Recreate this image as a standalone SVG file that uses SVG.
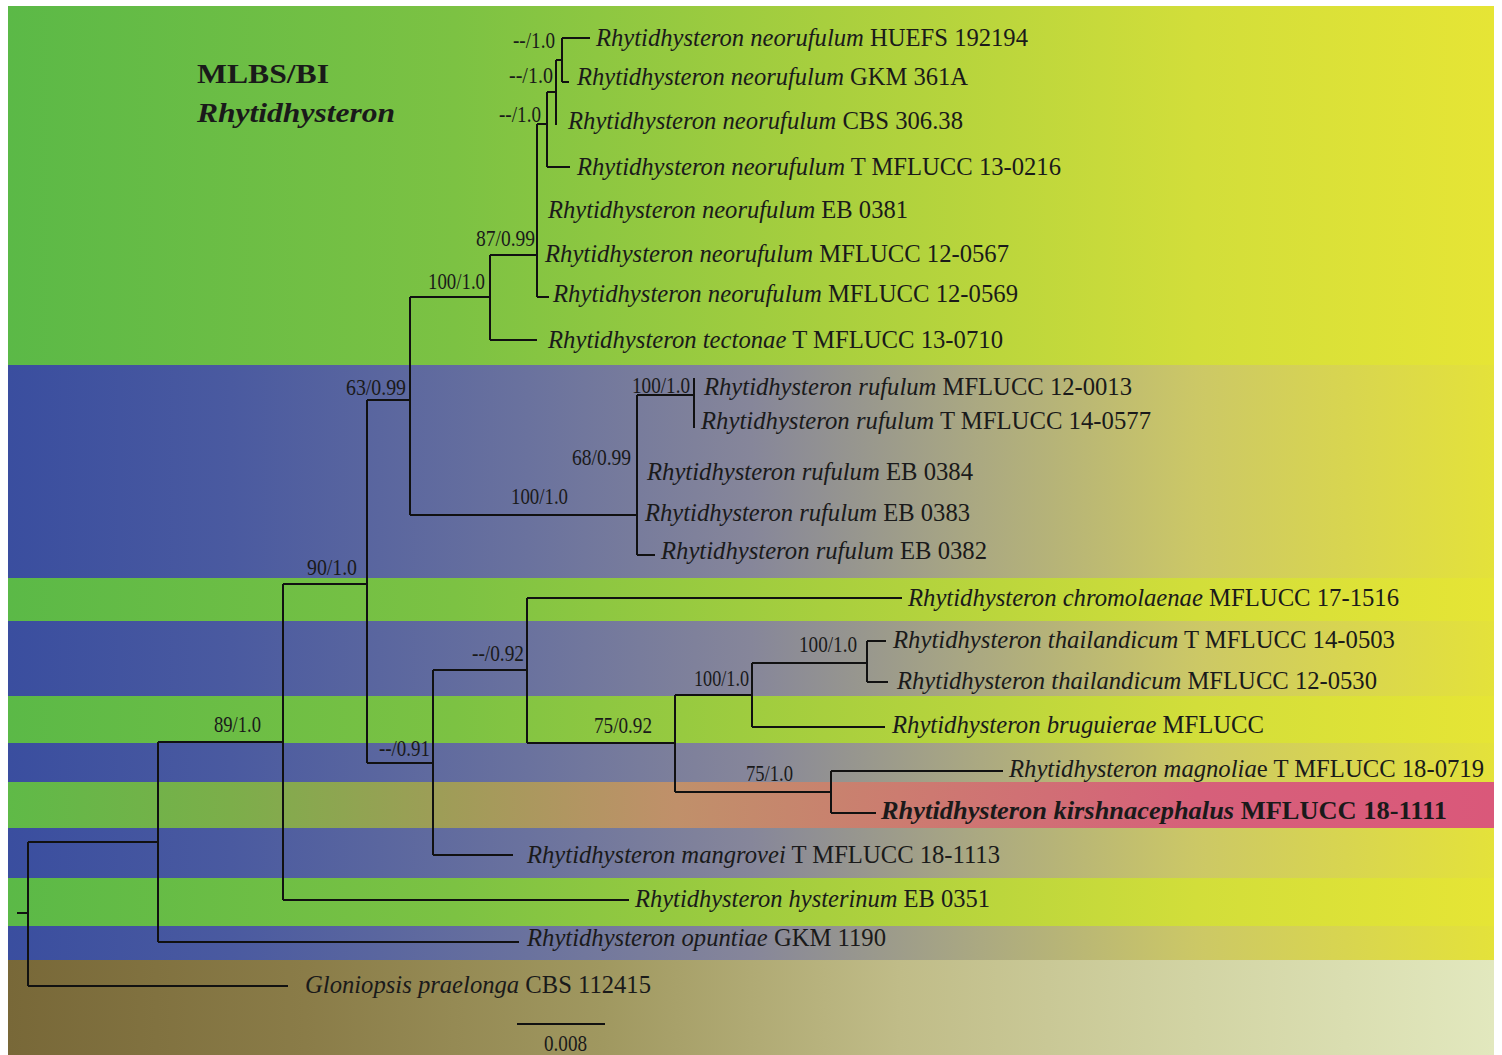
<svg xmlns="http://www.w3.org/2000/svg" width="1502" height="1055" viewBox="0 0 1502 1055">
<defs>
<linearGradient id="gG" x1="0" y1="0" x2="1" y2="0">
<stop offset="0" stop-color="#5bb947"/><stop offset="0.3" stop-color="#7cc243"/><stop offset="0.55" stop-color="#a8cf3e"/><stop offset="0.8" stop-color="#d2de3a"/><stop offset="1" stop-color="#e6e535"/>
</linearGradient>
<linearGradient id="gB" x1="0" y1="0" x2="1" y2="0">
<stop offset="0" stop-color="#3a4e9f"/><stop offset="0.15" stop-color="#4a5aa0"/><stop offset="0.35" stop-color="#6a729e"/><stop offset="0.5" stop-color="#86869a"/><stop offset="0.65" stop-color="#aaa882"/><stop offset="0.8" stop-color="#ccc866"/><stop offset="1" stop-color="#e4e23a"/>
</linearGradient>
<linearGradient id="gP" x1="0" y1="0" x2="1" y2="0">
<stop offset="0" stop-color="#5fba47"/><stop offset="0.15" stop-color="#7cae4a"/><stop offset="0.3" stop-color="#a09c58"/><stop offset="0.45" stop-color="#c0906a"/><stop offset="0.6" stop-color="#cc7c70"/><stop offset="0.8" stop-color="#d6607a"/><stop offset="1" stop-color="#da587a"/>
</linearGradient>
<linearGradient id="gBr" x1="0" y1="0" x2="1" y2="0">
<stop offset="0" stop-color="#786838"/><stop offset="0.2" stop-color="#8a7c48"/><stop offset="0.4" stop-color="#a09860"/><stop offset="0.6" stop-color="#c0bc88"/><stop offset="0.8" stop-color="#d2d4a4"/><stop offset="1" stop-color="#e2e8be"/>
</linearGradient>
</defs>
<style>
.tx{font-family:"Liberation Serif","Times New Roman",serif;font-size:25px;fill:#1a1a1a}
.it{font-style:italic}
.sp{font-family:"Liberation Serif","Times New Roman",serif;font-size:23px;fill:#1a1a1a}
.hd{font-family:"Liberation Serif","Times New Roman",serif;font-size:27px;font-weight:bold;fill:#1a1a1a}
.br{fill:none;stroke:#111;stroke-width:2}
</style>
<rect x="0" y="0" width="1502" height="1055" fill="#ffffff"/>
<g id="background">
<rect x="8" y="6" width="1486" height="359" fill="url(#gG)"/>
<rect x="8" y="365" width="1486" height="213" fill="url(#gB)"/>
<rect x="8" y="578" width="1486" height="43" fill="url(#gG)"/>
<rect x="8" y="621" width="1486" height="75" fill="url(#gB)"/>
<rect x="8" y="696" width="1486" height="47" fill="url(#gG)"/>
<rect x="8" y="743" width="1486" height="39" fill="url(#gB)"/>
<rect x="8" y="782" width="1486" height="46" fill="url(#gP)"/>
<rect x="8" y="828" width="1486" height="50" fill="url(#gB)"/>
<rect x="8" y="878" width="1486" height="48" fill="url(#gG)"/>
<rect x="8" y="926" width="1486" height="34" fill="url(#gB)"/>
<rect x="8" y="960" width="1486" height="95" fill="url(#gBr)"/>
</g>
<g id="title">
<text class="hd" x="197" y="83" textLength="132" lengthAdjust="spacingAndGlyphs">MLBS/BI</text>
<text class="hd it" x="197" y="122" textLength="198" lengthAdjust="spacingAndGlyphs">Rhytidhysteron</text>
</g>
<g id="connectors">
<path class="br" d="M17 913H28M28 842V986M28 842H158M28 986H288"/>
<path class="br" d="M158 742V942M158 742H283M158 942H519"/>
<path class="br" d="M283 584V900M283 584H367M283 900H629"/>
<path class="br" d="M367 400V763M367 400H410M367 763H433"/>
<path class="br" d="M410 297V515M410 297H490M410 515H637"/>
<path class="br" d="M490 255V340M490 255H537M490 340H537"/>
<path class="br" d="M537 124V297M537 124H547M537 297H549"/>
<path class="br" d="M547 92V167M547 92H556M547 167H570"/>
<path class="br" d="M556 60V125M556 60H562"/>
<path class="br" d="M562 38V82M562 38H590M562 82H569"/>
<path class="br" d="M637 395V555M637 395H694M637 555H655"/>
<path class="br" d="M694 378V428"/>
<path class="br" d="M433 670V855M433 670H527M433 855H513"/>
<path class="br" d="M527 598V743M527 598H902M527 743H675"/>
<path class="br" d="M675 695V792M675 695H752M675 792H831"/>
<path class="br" d="M752 663V727M752 663H867M752 727H885"/>
<path class="br" d="M867 641V682M867 641H886M867 682H888"/>
<path class="br" d="M831 771V813M831 771H1003M831 813H876"/>
<path class="br" d="M517 1024H605"/>
</g>
<g id="supports">
<text class="sp" x="513" y="48" textLength="42" lengthAdjust="spacingAndGlyphs">--/1.0</text>
<text class="sp" x="509" y="83" textLength="44" lengthAdjust="spacingAndGlyphs">--/1.0</text>
<text class="sp" x="499" y="122" textLength="42" lengthAdjust="spacingAndGlyphs">--/1.0</text>
<text class="sp" x="476" y="246" textLength="59" lengthAdjust="spacingAndGlyphs">87/0.99</text>
<text class="sp" x="428" y="289" textLength="57" lengthAdjust="spacingAndGlyphs">100/1.0</text>
<text class="sp" x="346" y="395" textLength="60" lengthAdjust="spacingAndGlyphs">63/0.99</text>
<text class="sp" x="632" y="393" textLength="58" lengthAdjust="spacingAndGlyphs">100/1.0</text>
<text class="sp" x="572" y="465" textLength="59" lengthAdjust="spacingAndGlyphs">68/0.99</text>
<text class="sp" x="511" y="504" textLength="57" lengthAdjust="spacingAndGlyphs">100/1.0</text>
<text class="sp" x="307" y="575" textLength="50" lengthAdjust="spacingAndGlyphs">90/1.0</text>
<text class="sp" x="472" y="661" textLength="52" lengthAdjust="spacingAndGlyphs">--/0.92</text>
<text class="sp" x="799" y="652" textLength="58" lengthAdjust="spacingAndGlyphs">100/1.0</text>
<text class="sp" x="694" y="686" textLength="55" lengthAdjust="spacingAndGlyphs">100/1.0</text>
<text class="sp" x="594" y="733" textLength="58" lengthAdjust="spacingAndGlyphs">75/0.92</text>
<text class="sp" x="746" y="781" textLength="47" lengthAdjust="spacingAndGlyphs">75/1.0</text>
<text class="sp" x="379" y="756" textLength="51" lengthAdjust="spacingAndGlyphs">--/0.91</text>
<text class="sp" x="214" y="732" textLength="47" lengthAdjust="spacingAndGlyphs">89/1.0</text>
<text class="sp" x="544" y="1051" textLength="43" lengthAdjust="spacingAndGlyphs">0.008</text>
</g>
<g id="taxa">
<g id="t1"><text class="tx" x="596" y="46" textLength="432" lengthAdjust="spacingAndGlyphs"><tspan class="it">Rhytidhysteron neorufulum</tspan> HUEFS 192194</text></g>
<g id="t2"><text class="tx" x="577" y="85" textLength="391" lengthAdjust="spacingAndGlyphs"><tspan class="it">Rhytidhysteron neorufulum</tspan> GKM 361A</text></g>
<g id="t3"><text class="tx" x="568" y="129" textLength="395" lengthAdjust="spacingAndGlyphs"><tspan class="it">Rhytidhysteron neorufulum</tspan> CBS 306.38</text></g>
<g id="t4"><text class="tx" x="577" y="175" textLength="484" lengthAdjust="spacingAndGlyphs"><tspan class="it">Rhytidhysteron neorufulum</tspan> T MFLUCC 13-0216</text></g>
<g id="t5"><text class="tx" x="548" y="218" textLength="360" lengthAdjust="spacingAndGlyphs"><tspan class="it">Rhytidhysteron neorufulum</tspan> EB 0381</text></g>
<g id="t6"><text class="tx" x="545" y="262" textLength="464" lengthAdjust="spacingAndGlyphs"><tspan class="it">Rhytidhysteron neorufulum</tspan> MFLUCC 12-0567</text></g>
<g id="t7"><text class="tx" x="553" y="302" textLength="465" lengthAdjust="spacingAndGlyphs"><tspan class="it">Rhytidhysteron neorufulum</tspan> MFLUCC 12-0569</text></g>
<g id="t8"><text class="tx" x="548" y="348" textLength="455" lengthAdjust="spacingAndGlyphs"><tspan class="it">Rhytidhysteron tectonae</tspan> T MFLUCC 13-0710</text></g>
<g id="t9"><text class="tx" x="704" y="395" textLength="428" lengthAdjust="spacingAndGlyphs"><tspan class="it">Rhytidhysteron rufulum</tspan> MFLUCC 12-0013</text></g>
<g id="t10"><text class="tx" x="701" y="429" textLength="450" lengthAdjust="spacingAndGlyphs"><tspan class="it">Rhytidhysteron rufulum</tspan> T MFLUCC 14-0577</text></g>
<g id="t11"><text class="tx" x="647" y="480" textLength="326" lengthAdjust="spacingAndGlyphs"><tspan class="it">Rhytidhysteron rufulum</tspan> EB 0384</text></g>
<g id="t12"><text class="tx" x="645" y="521" textLength="325" lengthAdjust="spacingAndGlyphs"><tspan class="it">Rhytidhysteron rufulum</tspan> EB 0383</text></g>
<g id="t13"><text class="tx" x="661" y="559" textLength="326" lengthAdjust="spacingAndGlyphs"><tspan class="it">Rhytidhysteron rufulum</tspan> EB 0382</text></g>
<g id="t14"><text class="tx" x="908" y="606" textLength="491" lengthAdjust="spacingAndGlyphs"><tspan class="it">Rhytidhysteron chromolaenae</tspan> MFLUCC 17-1516</text></g>
<g id="t15"><text class="tx" x="893" y="648" textLength="502" lengthAdjust="spacingAndGlyphs"><tspan class="it">Rhytidhysteron thailandicum</tspan> T MFLUCC 14-0503</text></g>
<g id="t16"><text class="tx" x="897" y="689" textLength="480" lengthAdjust="spacingAndGlyphs"><tspan class="it">Rhytidhysteron thailandicum</tspan> MFLUCC 12-0530</text></g>
<g id="t17"><text class="tx" x="892" y="733" textLength="372" lengthAdjust="spacingAndGlyphs"><tspan class="it">Rhytidhysteron bruguierae</tspan> MFLUCC</text></g>
<g id="t18"><text class="tx" x="1009" y="777" textLength="475" lengthAdjust="spacingAndGlyphs"><tspan class="it">Rhytidhysteron magnolia</tspan>e T MFLUCC 18-0719</text></g>
<g id="t19"><text class="tx" x="881" y="819" textLength="566" lengthAdjust="spacingAndGlyphs" font-weight="bold"><tspan class="it">Rhytidhysteron kirshnacephalus</tspan> MFLUCC 18-1111</text></g>
<g id="t20"><text class="tx" x="527" y="863" textLength="473" lengthAdjust="spacingAndGlyphs"><tspan class="it">Rhytidhysteron mangrovei</tspan> T MFLUCC 18-1113</text></g>
<g id="t21"><text class="tx" x="635" y="907" textLength="355" lengthAdjust="spacingAndGlyphs"><tspan class="it">Rhytidhysteron hysterinum</tspan> EB 0351</text></g>
<g id="t22"><text class="tx" x="527" y="946" textLength="359" lengthAdjust="spacingAndGlyphs"><tspan class="it">Rhytidhysteron opuntiae</tspan> GKM 1190</text></g>
<g id="t23"><text class="tx" x="305" y="993" textLength="346" lengthAdjust="spacingAndGlyphs"><tspan class="it">Gloniopsis praelonga</tspan> CBS 112415</text></g>
</g>
</svg>
